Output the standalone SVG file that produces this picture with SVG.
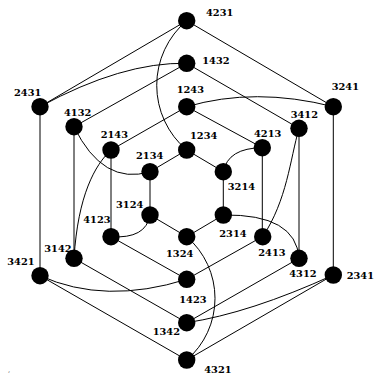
<svg xmlns="http://www.w3.org/2000/svg" width="375" height="376" viewBox="0 0 375 376">
<style>
.e{fill:none;stroke:#000;stroke-width:1}
.n circle{fill:#000}
.n text{font-family:"DejaVu Serif",serif;font-weight:bold;font-size:9.8px;fill:#000}
.m{font-family:"DejaVu Serif",serif;font-size:7px;fill:#666}
</style>
<rect width="375" height="376" fill="#fff"/>
<g id="connectors" class="e">
<line x1="186.7" y1="20.7" x2="40" y2="106.7"/>
<line x1="186.7" y1="20.7" x2="333.3" y2="106.7"/>
<path d="M186.7,20.7 A84.7,84.7 0 0 0 186.7,150"/>
<path d="M186.7,63.3 Q122,62 40,106.7"/>
<line x1="186.7" y1="63.3" x2="74" y2="126.7"/>
<line x1="186.7" y1="63.3" x2="299" y2="128.3"/>
<line x1="186.7" y1="106.7" x2="111" y2="150"/>
<line x1="186.7" y1="106.7" x2="262.3" y2="147.7"/>
<path d="M186.7,106.7 Q255,86.7 333.3,106.7"/>
<line x1="186.7" y1="150" x2="150" y2="171.7"/>
<line x1="186.7" y1="150" x2="223.3" y2="171.7"/>
<line x1="40" y1="106.7" x2="40" y2="275.7"/>
<line x1="74" y1="126.7" x2="74" y2="258.3"/>
<path d="M74,126.7 Q103,186 150,171.7"/>
<line x1="111" y1="150" x2="111" y2="236.7"/>
<path d="M111,150 C95,165 78,195 74,258.3"/>
<line x1="150" y1="171.7" x2="150" y2="215"/>
<line x1="333.3" y1="106.7" x2="333.3" y2="275"/>
<line x1="299" y1="128.3" x2="299" y2="258.3"/>
<path d="M299,128.3 C290,160 287,200 262.7,236.7"/>
<line x1="262.3" y1="147.7" x2="262.3" y2="236.7"/>
<path d="M262.3,147.7 Q228,148 223.3,171.7"/>
<line x1="223.3" y1="171.7" x2="223.3" y2="215"/>
<path d="M150,215 Q146,239 111,236.7"/>
<line x1="150" y1="215" x2="186.7" y2="236.7"/>
<line x1="111" y1="236.7" x2="186.7" y2="279.3"/>
<line x1="74" y1="258.3" x2="186.7" y2="322.7"/>
<line x1="40" y1="275.7" x2="186.7" y2="360"/>
<path d="M40,275.7 Q105,305 186.7,279.3"/>
<line x1="223.3" y1="215" x2="186.7" y2="236.7"/>
<path d="M223.3,215 Q296,214 299,258.3"/>
<line x1="262.3" y1="236.7" x2="186.7" y2="279.3"/>
<line x1="299" y1="258.3" x2="186.7" y2="322.7"/>
<path d="M333.3,275 Q250,313 186.7,322.7"/>
<line x1="333.3" y1="275" x2="186.7" y2="360"/>
<path d="M186.7,236.7 A81.3,81.3 0 0 1 186.7,360"/>
</g>
<g id="n4231" class="n"><circle cx="186.7" cy="20.7" r="8.7"/><text x="206" y="15.7">4231</text></g>
<g id="n1432" class="n"><circle cx="186.7" cy="63.3" r="8.7"/><text x="202.3" y="64">1432</text></g>
<g id="n1243" class="n"><circle cx="186.7" cy="106.7" r="8.7"/><text x="176.7" y="93.3">1243</text></g>
<g id="n3241" class="n"><circle cx="333.3" cy="106.7" r="8.7"/><text x="331.7" y="90">3241</text></g>
<g id="n2431" class="n"><circle cx="40" cy="106.7" r="8.7"/><text x="14" y="96">2431</text></g>
<g id="n4132" class="n"><circle cx="74" cy="126.7" r="8.7"/><text x="64" y="115.7">4132</text></g>
<g id="n3412" class="n"><circle cx="299" cy="128.3" r="8.7"/><text x="290.7" y="118.3">3412</text></g>
<g id="n4213" class="n"><circle cx="262.3" cy="147.7" r="8.7"/><text x="254" y="136.7">4213</text></g>
<g id="n1234" class="n"><circle cx="186.7" cy="150" r="8.7"/><text x="190" y="139">1234</text></g>
<g id="n2143" class="n"><circle cx="111" cy="150" r="8.7"/><text x="100.7" y="138.3">2143</text></g>
<g id="n2134" class="n"><circle cx="150" cy="171.7" r="8.7"/><text x="136" y="159">2134</text></g>
<g id="n3214" class="n"><circle cx="223.3" cy="171.7" r="8.7"/><text x="227.8" y="190">3214</text></g>
<g id="n3124" class="n"><circle cx="150" cy="215" r="8.7"/><text x="116" y="208.3">3124</text></g>
<g id="n4123" class="n"><circle cx="111" cy="236.7" r="8.7"/><text x="83.3" y="223.3">4123</text></g>
<g id="n2314" class="n"><circle cx="223.3" cy="215" r="8.7"/><text x="219.3" y="236.7">2314</text></g>
<g id="n1324" class="n"><circle cx="186.7" cy="236.7" r="8.7"/><text x="166" y="257.3">1324</text></g>
<g id="n3142" class="n"><circle cx="74" cy="258.3" r="8.7"/><text x="44.3" y="252.3">3142</text></g>
<g id="n2413" class="n"><circle cx="262.7" cy="236.7" r="8.7"/><text x="258.3" y="255.7">2413</text></g>
<g id="n3421" class="n"><circle cx="40" cy="275.7" r="8.7"/><text x="7.3" y="265">3421</text></g>
<g id="n4312" class="n"><circle cx="299" cy="258.3" r="8.7"/><text x="289.3" y="277.3">4312</text></g>
<g id="n2341" class="n"><circle cx="333.3" cy="275" r="8.7"/><text x="346.7" y="279">2341</text></g>
<g id="n1423" class="n"><circle cx="186.7" cy="279.3" r="8.7"/><text x="179.3" y="303.3">1423</text></g>
<g id="n1342" class="n"><circle cx="186.7" cy="322.7" r="8.7"/><text x="152.7" y="335">1342</text></g>
<g id="n4321" class="n"><circle cx="186.7" cy="360" r="8.7"/><text x="204.3" y="372.7">4321</text></g>
<text class="m" x="8" y="372">,</text>
</svg>
